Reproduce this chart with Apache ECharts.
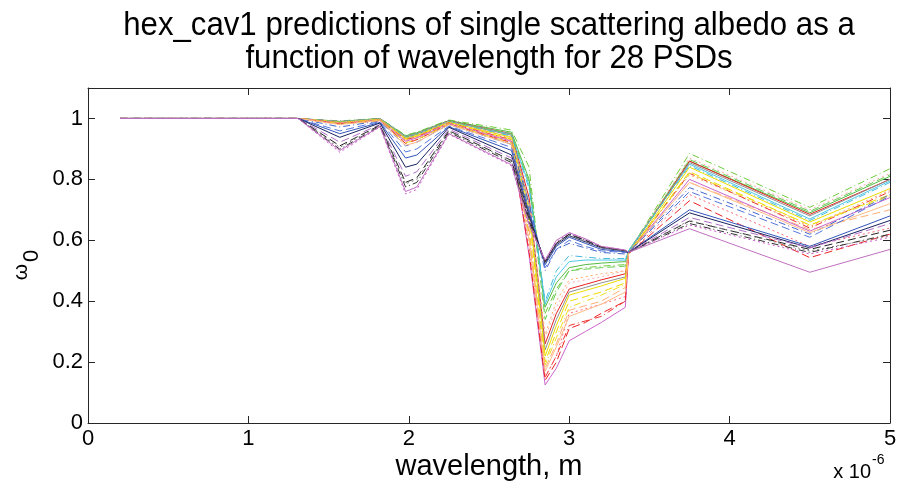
<!DOCTYPE html>
<html><head><meta charset="utf-8">
<script src="https://cdn.jsdelivr.net/npm/echarts@6/dist/echarts.min.js"></script>
<style>html,body{margin:0;padding:0;background:#fff}#c{width:901px;height:487px}</style>
</head><body><div id="c"></div>
<script>
// wavelength grid in micrometres (axis is labelled x 10^-6 m)
const wavelengths = [0.2, 1.2, 1.31, 1.57, 1.82, 1.98, 2.05, 2.25, 2.64, 2.75, 2.85, 2.92, 3.0, 3.1, 3.2, 3.35, 3.37, 3.75, 4.5, 5.0];
const xTicks = [0, 1, 2, 3, 4, 5];
const yTicks = [0, 0.2, 0.4, 0.6, 0.8, 1];

const psd01 = [1,1,1,0.992,1.0,0.945,0.955,0.995,0.962,0.84,0.36,0.44,0.50,0.51,0.515,0.52,0.56,0.885,0.708,0.835];
const psd02 = [1,1,1,0.990,1.0,0.943,0.953,0.993,0.955,0.80,0.38,0.46,0.51,0.52,0.525,0.53,0.565,0.860,0.690,0.810];
const psd03 = [1,1,1,0.990,0.999,0.940,0.950,0.992,0.950,0.74,0.26,0.36,0.44,0.455,0.47,0.49,0.56,0.860,0.685,0.800];
const psd04 = [1,1,1,0.990,0.999,0.940,0.950,0.991,0.948,0.78,0.39,0.48,0.53,0.535,0.535,0.535,0.565,0.850,0.670,0.795];
const psd05 = [1,1,1,0.989,0.998,0.938,0.948,0.990,0.945,0.72,0.24,0.34,0.43,0.445,0.46,0.48,0.56,0.855,0.680,0.800];
const psd06 = [1,1,1,0.989,0.998,0.938,0.948,0.990,0.950,0.79,0.34,0.43,0.50,0.505,0.51,0.515,0.56,0.865,0.695,0.815];
const psd07 = [1,1,1,0.988,0.997,0.937,0.947,0.989,0.940,0.72,0.28,0.38,0.46,0.47,0.48,0.50,0.56,0.870,0.700,0.820];
const psd08 = [1,1,1,0.988,0.997,0.935,0.945,0.988,0.942,0.77,0.40,0.50,0.55,0.545,0.54,0.54,0.565,0.845,0.665,0.790];
const psd09 = [1,1,1,0.987,0.997,0.934,0.944,0.987,0.938,0.70,0.22,0.32,0.42,0.435,0.45,0.475,0.555,0.840,0.660,0.770];
const psd10 = [1,1,1,0.986,0.996,0.933,0.943,0.987,0.935,0.72,0.29,0.40,0.47,0.48,0.49,0.50,0.56,0.815,0.645,0.765];
const psd11 = [1,1,1,0.986,0.996,0.932,0.942,0.986,0.932,0.68,0.20,0.30,0.40,0.415,0.43,0.46,0.555,0.825,0.650,0.750];
const psd12 = [1,1,1,0.985,0.995,0.930,0.940,0.985,0.930,0.62,0.15,0.22,0.32,0.335,0.35,0.40,0.555,0.820,0.640,0.760];
const psd13 = [1,1,1,0.985,0.995,0.928,0.938,0.984,0.928,0.64,0.18,0.26,0.37,0.385,0.40,0.445,0.555,0.790,0.635,0.700];
const psd14 = [1,1,1,0.984,0.994,0.925,0.936,0.983,0.925,0.55,0.125,0.18,0.27,0.30,0.33,0.38,0.555,0.800,0.630,0.740];
const psd15 = [1,1,1,0.972,0.992,0.910,0.922,0.980,0.915,0.72,0.50,0.57,0.59,0.575,0.56,0.555,0.56,0.773,0.620,0.750];
const psd16 = [1,1,1,0.982,0.994,0.920,0.932,0.982,0.922,0.58,0.15,0.22,0.36,0.375,0.39,0.415,0.555,0.750,0.580,0.640];
const psd17 = [1,1,1,0.982,0.993,0.918,0.930,0.981,0.920,0.56,0.14,0.20,0.31,0.33,0.36,0.40,0.555,0.730,0.543,0.620];
const psd18 = [1,1,1,0.983,0.994,0.920,0.930,0.982,0.920,0.62,0.19,0.28,0.38,0.40,0.42,0.455,0.555,0.820,0.650,0.745];
const psd19 = [1,1,1,0.980,0.993,0.912,0.922,0.980,0.915,0.60,0.17,0.25,0.35,0.37,0.39,0.43,0.555,0.790,0.625,0.720];
const psd20 = [1,1,1,0.959,0.990,0.890,0.900,0.975,0.905,0.70,0.51,0.57,0.60,0.58,0.565,0.56,0.56,0.760,0.610,0.745];
const psd21 = [1,1,1,0.950,0.987,0.870,0.880,0.973,0.895,0.69,0.52,0.58,0.61,0.59,0.57,0.562,0.56,0.700,0.580,0.680];
const psd22 = [1,1,1,0.938,0.985,0.840,0.850,0.971,0.880,0.68,0.525,0.585,0.615,0.595,0.575,0.565,0.56,0.690,0.575,0.665];
const psd23 = [1,1,1,0.922,0.980,0.810,0.825,0.965,0.870,0.67,0.53,0.59,0.62,0.60,0.578,0.566,0.56,0.675,0.575,0.655];
const psd24 = [1,1,1,0.910,0.978,0.790,0.805,0.960,0.862,0.67,0.53,0.59,0.62,0.60,0.578,0.566,0.56,0.663,0.570,0.633];
const psd25 = [1,1,1,0.905,0.977,0.785,0.800,0.958,0.860,0.66,0.525,0.585,0.615,0.595,0.575,0.565,0.56,0.665,0.565,0.615];
const psd26 = [1,1,1,0.899,0.975,0.775,0.790,0.955,0.855,0.66,0.53,0.59,0.62,0.60,0.578,0.566,0.56,0.655,0.560,0.620];
const psd27 = [1,1,1,0.889,0.972,0.752,0.767,0.948,0.845,0.65,0.535,0.595,0.625,0.605,0.58,0.568,0.56,0.650,0.555,0.610];
const psd28 = [1,1,1,0.895,0.973,0.760,0.775,0.950,0.848,0.65,0.535,0.60,0.625,0.605,0.58,0.568,0.56,0.638,0.495,0.570];

const seriesValues = [psd01,psd02,psd03,psd04,psd05,psd06,psd07,psd08,psd09,psd10,psd11,psd12,psd13,psd14,
                      psd15,psd16,psd17,psd18,psd19,psd20,psd21,psd22,psd23,psd24,psd25,psd26,psd27,psd28];

const DD = [7,3,1,3];
const seriesStyles = [
  ['#6fcc3a', DD], ['#55bb44', 'solid'], ['#e82020', 'solid'], ['#50c8e8', 'solid'],
  ['#909090', 'solid'], ['#66cc55', [8,4]], ['#ffaaaa', [2,3]], ['#44bbdd', DD],
  ['#eadc00', 'solid'], ['#ffaa66', [2,3]], ['#eedd00', [8,4]], ['#ee3333', DD],
  ['#ffb077', [8,4]], ['#cc66cc', 'solid'], ['#4466cc', DD], ['#ff6677', [2,3]],
  ['#ee2222', [8,4]], ['#eedd22', DD], ['#ffbb88', 'solid'], ['#5577dd', [8,4]],
  ['#3355bb', 'solid'], ['#1a2260', 'solid'], ['#b070c8', [8,4]], ['#222222', [8,4]],
  ['#888888', [2,3]], ['#333333', DD], ['#cc55cc', [2,3]], ['#c070c0', 'solid']
];

const series = seriesValues.map((vals, k) => ({
  type: 'line',
  showSymbol: false,
  silent: true,
  data: wavelengths.map((x, i) => [x, vals[i]]),
  lineStyle: { color: seriesStyles[k][0], width: 1, type: seriesStyles[k][1] },
  xAxisIndex: 0, yAxisIndex: 0
}));

const axisLineStyle = { color: '#262626', width: 1 };
const FONT = '"Liberation Sans", Arial, sans-serif';

const chart = echarts.init(document.getElementById('c'));
chart.setOption({
  animation: false,
  backgroundColor: '#ffffff',
  grid: { left: 88, right: 11, top: 88, bottom: 64, containLabel: false },
  xAxis: [
    { type: 'value', min: 0, max: 5, interval: 1, position: 'bottom',
      axisLine: { show: true, onZero: false, lineStyle: axisLineStyle },
      axisTick: { show: true, inside: true, length: 7, lineStyle: axisLineStyle },
      axisLabel: { show: true, color: '#000', fontSize: 22, fontFamily: FONT, margin: 5,
                   formatter: v => xTicks.includes(v) ? String(v) : '' },
      splitLine: { show: false } },
    { type: 'value', min: 0, max: 5, interval: 1, position: 'top',
      axisLine: { show: true, onZero: false, lineStyle: axisLineStyle },
      axisTick: { show: true, inside: true, length: 7, lineStyle: axisLineStyle },
      axisLabel: { show: false }, splitLine: { show: false } }
  ],
  yAxis: [
    { type: 'value', min: 0, max: 1.1, interval: 0.2, position: 'left',
      axisLine: { show: true, onZero: false, lineStyle: axisLineStyle },
      axisTick: { show: true, inside: true, length: 7, lineStyle: axisLineStyle },
      axisLabel: { show: true, color: '#000', fontSize: 22, fontFamily: FONT, margin: 5,
                   formatter: v => { const t = yTicks.find(y => Math.abs(y - v) < 1e-9); return t === undefined ? '' : String(t); } },
      splitLine: { show: false } },
    { type: 'value', min: 0, max: 1.1, interval: 0.2, position: 'right',
      axisLine: { show: true, onZero: false, lineStyle: axisLineStyle },
      axisTick: { show: true, inside: true, length: 7, lineStyle: axisLineStyle },
      axisLabel: { show: false }, splitLine: { show: false } }
  ],
  graphic: [
    { type: 'text', x: 489, y: 26, scaleX: 0.945,
      style: { text: 'hex_cav1 predictions of single scattering albedo as a', font: '33px ' + FONT, fill: '#000', textAlign: 'center', textVerticalAlign: 'middle' } },
    { type: 'text', x: 489, y: 59, scaleX: 0.945,
      style: { text: 'function of wavelength for 28 PSDs', font: '33px ' + FONT, fill: '#000', textAlign: 'center', textVerticalAlign: 'middle' } },
    { type: 'text', x: 489, y: 467,
      style: { text: 'wavelength, m', font: '29px ' + FONT, fill: '#000', textAlign: 'center', textVerticalAlign: 'middle' } },
    { type: 'text', x: 871, y: 472,
      style: { text: 'x 10', font: '20px ' + FONT, fill: '#000', textAlign: 'right', textVerticalAlign: 'middle' } },
    { type: 'text', x: 872, y: 460,
      style: { text: '-6', font: '14px ' + FONT, fill: '#000', textAlign: 'left', textVerticalAlign: 'middle' } },
    { type: 'text', x: 21, y: 272, rotation: Math.PI / 2,
      style: { text: 'ω', font: '21px ' + FONT, fill: '#000', textAlign: 'center', textVerticalAlign: 'middle' } },
    { type: 'text', x: 32, y: 256, rotation: Math.PI / 2,
      style: { text: '0', font: '22px ' + FONT, fill: '#000', textAlign: 'center', textVerticalAlign: 'middle' } }
  ],
  series: series
});
</script>
</body></html>
